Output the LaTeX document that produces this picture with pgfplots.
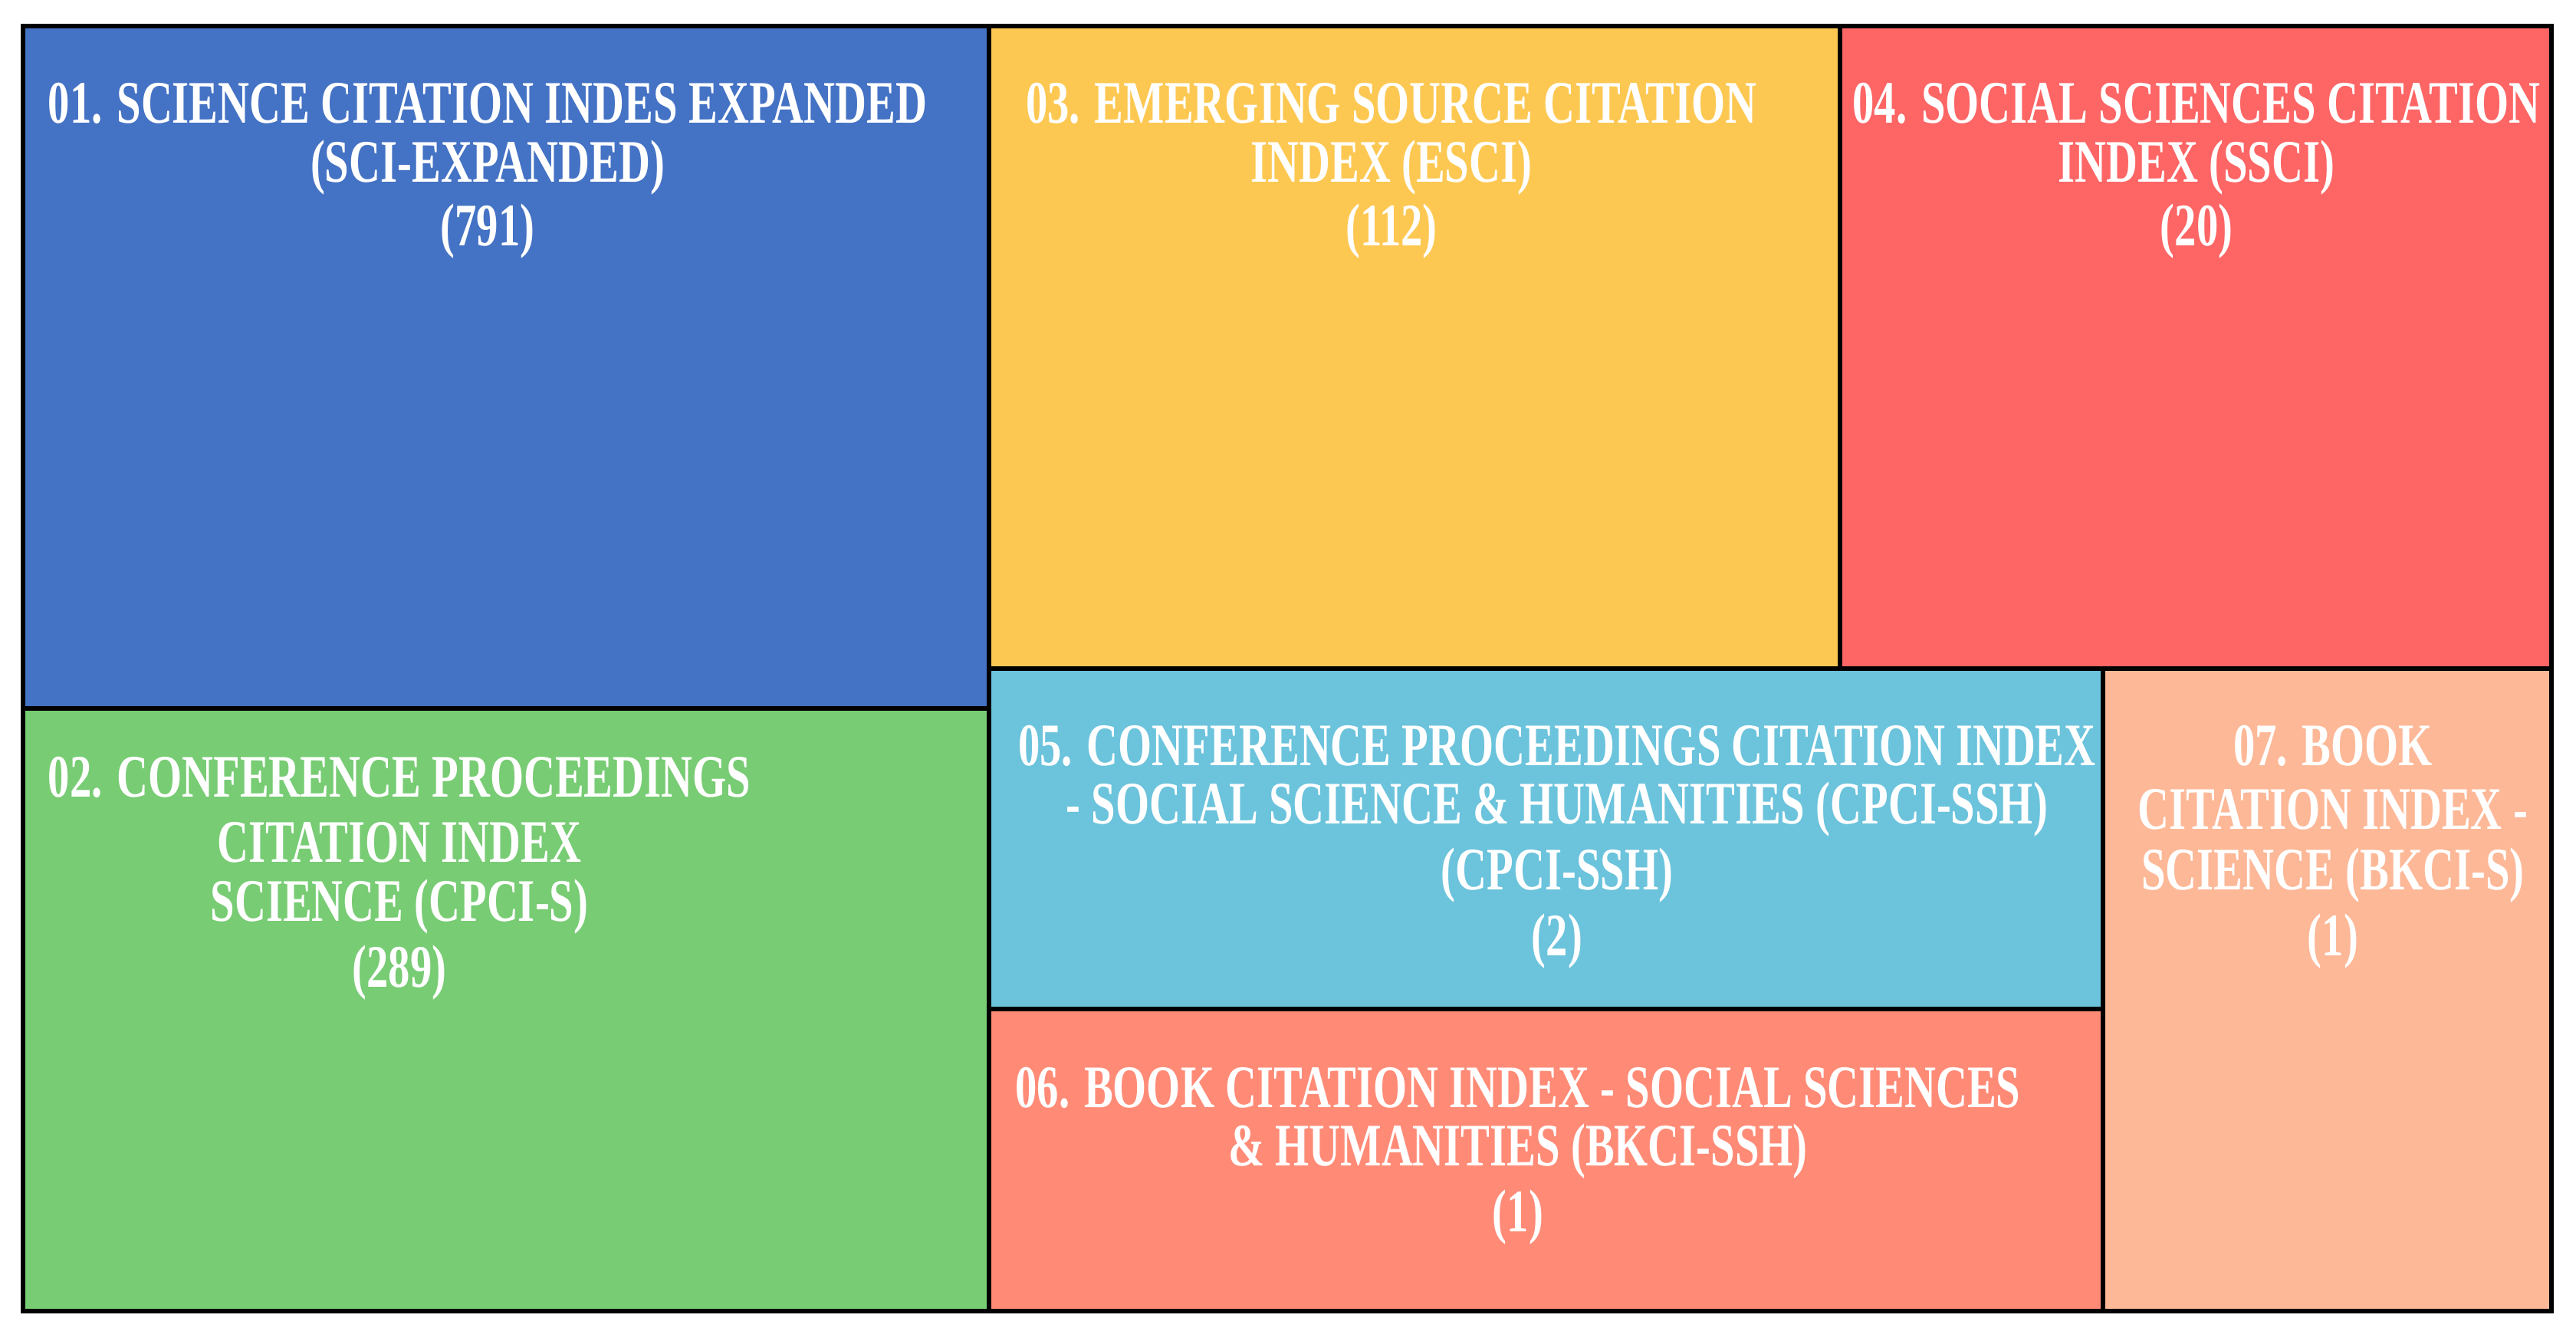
\documentclass[border=0pt]{standalone}
\usepackage{pgfplots}
\pgfplotsset{compat=1.18}
\usepackage{fontspec}
\setmainfont{Liberation Serif}
\newfontfamily\cond{Liberation Serif}[FakeStretch=0.72]

\definecolor{cBlue}{HTML}{4472C4}
\definecolor{cGreen}{HTML}{78CC74}
\definecolor{cYellow}{HTML}{FDC852}
\definecolor{cRed}{HTML}{FE6565}
\definecolor{cCyan}{HTML}{6BC3DC}
\definecolor{cSalmon}{HTML}{FF8B77}
\definecolor{cPeach}{HTML}{FDB897}

\tikzset{lbl/.style={text=white, font=\cond\bfseries\fontsize{16}{19}\selectfont, inner sep=0pt}}

% one treemap cell: x1 y1 x2 y2 colour (pixel units of the reference)
\newcommand{\cell}[5]{%
  \addplot[fill=#5, draw=black, line width=1.2pt] coordinates {(#1,#2) (#3,#2) (#3,#4) (#1,#4)} -- cycle;}

\begin{document}
\begin{tikzpicture}
\begin{axis}[
    width=24cm, height=12.493cm,
    scale only axis,
    hide axis,
    xmin=0, xmax=3360,
    ymin=0, ymax=1749,
    clip=false,
]
% page background
\addplot[fill=white, draw=none] coordinates {(0,0) (3360,0) (3360,1749) (0,1749)} -- cycle;

\cell{30}{825}{1290}{1715}{cBlue}
\cell{30}{39}{1290}{825}{cGreen}
\cell{1290}{877}{2400}{1715}{cYellow}
\cell{2400}{877}{3328}{1715}{cRed}
\cell{1290}{433}{2743}{877}{cCyan}
\cell{1290}{39}{2743}{433}{cSalmon}
\cell{2743}{39}{3328}{877}{cPeach}

% labels
\node[lbl] at (axis cs:636,1614) {01. SCIENCE CITATION INDES EXPANDED};
\node[lbl] at (axis cs:636,1530) {(SCI-EXPANDED)};
\node[lbl] at (axis cs:636,1447) {(791)};

\node[lbl] at (axis cs:1815,1614) {03. EMERGING SOURCE CITATION};
\node[lbl] at (axis cs:1815,1530) {INDEX (ESCI)};
\node[lbl] at (axis cs:1815,1447) {(112)};

\node[lbl] at (axis cs:2865,1614) {04. SOCIAL SCIENCES CITATION};
\node[lbl] at (axis cs:2865,1530) {INDEX (SSCI)};
\node[lbl] at (axis cs:2865,1447) {(20)};

\node[lbl] at (axis cs:521,735) {02. CONFERENCE PROCEEDINGS};
\node[lbl] at (axis cs:521,650) {CITATION INDEX};
\node[lbl] at (axis cs:521,566) {SCIENCE (CPCI-S)};
\node[lbl] at (axis cs:521,480) {(289)};

\node[lbl] at (axis cs:2031,776) {05. CONFERENCE PROCEEDINGS CITATION INDEX};
\node[lbl] at (axis cs:2031,693) {- SOCIAL SCIENCE \& HUMANITIES (CPCI-SSH)};
\node[lbl] at (axis cs:2031,607) {(CPCI-SSH)};
\node[lbl] at (axis cs:2031,521) {(2)};

\node[lbl] at (axis cs:3043,776) {07. BOOK};
\node[lbl] at (axis cs:3043,693) {CITATION INDEX -};
\node[lbl] at (axis cs:3043,607) {SCIENCE (BKCI-S)};
\node[lbl] at (axis cs:3043,521) {(1)};

\node[lbl] at (axis cs:1980,330) {06. BOOK CITATION INDEX - SOCIAL SCIENCES};
\node[lbl] at (axis cs:1980,247) {\& HUMANITIES (BKCI-SSH)};
\node[lbl] at (axis cs:1980,161) {(1)};
\end{axis}
\end{tikzpicture}
\end{document}
